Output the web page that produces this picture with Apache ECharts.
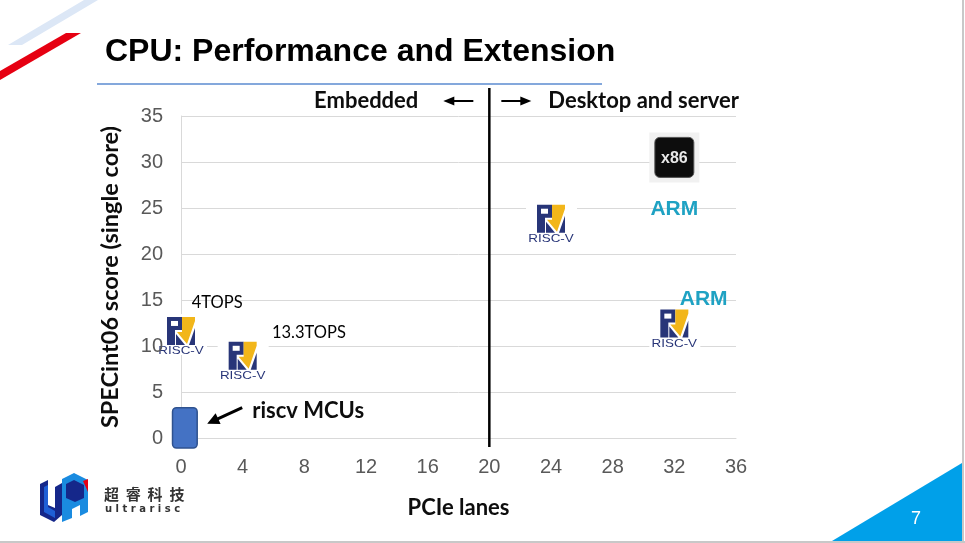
<!DOCTYPE html>
<html>
<head>
<meta charset="utf-8">
<script src="https://cdn.jsdelivr.net/npm/echarts@6/dist/echarts.min.js"></script>
<style>html,body{margin:0;padding:0;background:#fff;}#c{width:965px;height:543px;}</style>
</head>
<body>
<div id="c"></div>
<script>
// ---- data ----
const riscvX = [0, 4, 24, 32];
const riscvY = [11.2, 8.5, 23.4, 12];
const x86X = [32];
const x86Y = [30.5];
const armX = [32, 33.9];
const armY = [24.9, 15.1];
const mcuX = [-0.55, 1.05];   // box extent on PCIe axis
const mcuY = [-1.1, 3.3];     // box extent on score axis
const topsText = ['4TOPS', '13.3TOPS'];
const topsX = [0.7, 5.9];
const topsY = [14.7, 11.4];
const dividerX = [20];
const leftZoneText = 'Embedded';
const rightZoneText = 'Desktop and server';
const mcuText = 'riscv MCUs';

const NAVY = '#283578', GOLD = '#f2b61a';
const chart = echarts.init(document.getElementById('c'));

function arrowShapes(x1, y1, x2, y2, w, hl, hw) {
  const dx = x2 - x1, dy = y2 - y1, L = Math.hypot(dx, dy);
  const ux = dx / L, uy = dy / L, px = -uy, py = ux;
  const bx = x2 - ux * hl, by = y2 - uy * hl;
  return [
    {type: 'line', shape: {x1: x1, y1: y1, x2: bx + ux, y2: by + uy}, style: {stroke: '#000', lineWidth: w}},
    {type: 'polygon', shape: {points: [[x2, y2], [bx + px * hw, by + py * hw], [bx - px * hw, by - py * hw]]}, style: {fill: '#000'}}
  ];
}

function riscvItem(params, api) {
  const c = api.coord([api.value(0), api.value(1)]);
  const ox = c[0] - 14, oy = c[1] - 18;
  const P = pts => pts.map(p => [ox + p[0], oy + p[1]]);
  return {type: 'group', children: [
    {type: 'rect', shape: {x: c[0] - 25, y: c[1] - 21, width: 51, height: 41}, style: {fill: '#fff'}},
    {type: 'polygon', shape: {points: P([[0, 0], [15, 0], [15, 13], [8, 13], [8, 28], [0, 28]])}, style: {fill: NAVY}},
    {type: 'rect', shape: {x: ox + 4, y: oy + 4, width: 7, height: 5}, style: {fill: '#fff'}},
    {type: 'polygon', shape: {points: P([[15, 0], [28, 0], [28, 4], [20, 27], [10, 15], [15, 15]])}, style: {fill: GOLD}},
    {type: 'polygon', shape: {points: P([[9, 17], [18, 28], [9, 28]])}, style: {fill: NAVY}},
    {type: 'polygon', shape: {points: P([[22, 28], [28, 28], [28, 11]])}, style: {fill: NAVY}},
    {type: 'text', x: c[0], y: c[1] + 16, scaleX: 1.22, style: {text: 'RISC-V', x: 0, y: 0, align: 'center', verticalAlign: 'middle',
      font: '11px "Liberation Sans"', fill: NAVY}}
  ]};
}

function x86Item(params, api) {
  const c = api.coord([api.value(0), api.value(1)]);
  return {type: 'group', children: [
    {type: 'rect', shape: {x: c[0] - 25, y: c[1] - 25, width: 50, height: 50}, style: {fill: '#f1f1f1'}},
    {type: 'rect', shape: {x: c[0] - 19.5, y: c[1] - 20, width: 39, height: 40, r: 5}, style: {fill: '#0d0d0d', stroke: '#555', lineWidth: 1}},
    {type: 'text', style: {text: 'x86', x: c[0], y: c[1] + 1, align: 'center', verticalAlign: 'middle',
      font: 'bold 16px "Liberation Sans"', fill: '#e8e8e8'}}
  ]};
}

function armItem(params, api) {
  const c = api.coord([api.value(0), api.value(1)]);
  return {type: 'text', style: {text: 'ARM', x: c[0], y: c[1], align: 'center', verticalAlign: 'middle',
    font: 'bold 21px "Liberation Sans"', fill: '#1fa2c3'}};
}

function mcuItem(params, api) {
  const tl = api.coord([api.value(0), api.value(3)]);
  const br = api.coord([api.value(1), api.value(2)]);
  const right = br[0], top = tl[1];
  return {type: 'group', children: [
    {type: 'rect', shape: {x: tl[0], y: tl[1], width: br[0] - tl[0], height: br[1] - tl[1], r: 4},
      style: {fill: '#4472c4', stroke: '#2f528f', lineWidth: 1.5}},
    ...arrowShapes(right + 45, top, right + 10, top + 16, 3, 12, 6),
    {type: 'text', style: {text: mcuText, x: right + 55, y: top + 3, align: 'left', verticalAlign: 'middle',
      font: 'bold 22px Lato', fill: '#0d0d0d'}}
  ]};
}

function topsItem(params, api) {
  const c = api.coord([api.value(0), api.value(1)]);
  return {type: 'text', style: {text: topsText[params.dataIndex], x: c[0], y: c[1], align: 'left', verticalAlign: 'middle',
    font: '16.5px Lato', fill: '#000'}};
}

function dividerItem(params, api) {
  const t = api.coord([api.value(0), 35]);
  const b = api.coord([api.value(0), 0]);
  const x = t[0], ty = t[1] - 15;
  return {type: 'group', children: [
    {type: 'line', shape: {x1: x, y1: t[1] - 28, x2: x, y2: b[1] + 9}, style: {stroke: '#000', lineWidth: 2.5}},
    {type: 'text', style: {text: leftZoneText, x: x - 71, y: ty, align: 'right', verticalAlign: 'middle', font: 'bold 22px Lato', fill: '#0d0d0d'}},
    ...arrowShapes(x - 16, ty, x - 46, ty, 2, 11, 4.5),
    ...arrowShapes(x + 12, ty, x + 42, ty, 2, 11, 4.5),
    {type: 'text', style: {text: rightZoneText, x: x + 59, y: ty, align: 'left', verticalAlign: 'middle', font: 'bold 22px Lato', fill: '#0d0d0d'}}
  ]};
}

const yBase = {type: 'value', min: 0, max: 35, interval: 5, position: 'left'};
const labelStyle = {color: '#595959', fontSize: 20, fontFamily: 'Liberation Sans'};

chart.setOption({
  animation: false,
  grid: {left: 181, right: 229, top: 116, bottom: 105, containLabel: false},
  xAxis: {type: 'value', min: 0, max: 36, interval: 4,
    name: 'PCIe lanes', nameLocation: 'middle', nameGap: 59,
    nameTextStyle: {fontFamily: 'Lato', fontWeight: 'bold', fontSize: 22, color: '#0d0d0d'},
    axisLine: {lineStyle: {color: '#d9d9d9', width: 1}}, axisTick: {show: false}, splitLine: {show: false},
    axisLabel: Object.assign({margin: 19}, labelStyle)},
  yAxis: [
    Object.assign({}, yBase, {
      name: 'SPECint06 score (single core)', nameLocation: 'middle', nameGap: 59, nameRotate: 90,
      nameTextStyle: {fontFamily: 'Lato', fontWeight: 'bold', fontSize: 23.5, color: '#0d0d0d'},
      axisLine: {show: true, lineStyle: {color: '#d9d9d9', width: 1}}, axisTick: {show: false},
      splitLine: {show: true, lineStyle: {color: '#d9d9d9', width: 1}},
      axisLabel: {show: false}}),
    Object.assign({}, yBase, {z: 10, axisLine: {show: false}, axisTick: {show: false}, splitLine: {show: false},
      axisLabel: Object.assign({margin: 18}, labelStyle)})
  ],
  graphic: [
    {type: 'polygon', shape: {points: [[84, 0], [98, 0], [22, 45], [8, 45]]}, style: {fill: '#dce7f6'}},
    {type: 'polygon', shape: {points: [[66, 33], [81, 33], [0, 80], [0, 71]]}, style: {fill: '#e60012'}},
    {type: 'text', style: {text: 'CPU: Performance and Extension', x: 105, y: 52, verticalAlign: 'middle',
      font: 'bold 32px "Liberation Sans"', fill: '#000'}},
    {type: 'line', shape: {x1: 97, y1: 84, x2: 602, y2: 84}, style: {stroke: '#5b8bd0', lineWidth: 1.5}},
    {type: 'line', shape: {x1: 963, y1: 0, x2: 963, y2: 543}, style: {stroke: '#c8c8c8', lineWidth: 2}},
    {type: 'line', shape: {x1: 0, y1: 542, x2: 965, y2: 542}, style: {stroke: '#c8c8c8', lineWidth: 2}},
    {type: 'polygon', shape: {points: [[832, 541], [962, 463], [962, 541]]}, style: {fill: '#00a0e9'}},
    {type: 'text', style: {text: '7', x: 916, y: 519, align: 'center', verticalAlign: 'middle', font: '18px "Liberation Sans"', fill: '#fff'}},
    // company logo
    {type: 'polygon', shape: {points: [[40, 484], [48, 480], [48, 505], [55, 508], [55, 487], [62, 483], [62, 515], [54, 522], [40, 515]]}, style: {fill: '#15278a'}},
    {type: 'polygon', shape: {points: [[44, 487], [48, 485], [48, 507], [55, 511], [55, 518], [44, 512]]}, style: {fill: '#1f5fd6'}},
    {type: 'polygon', shape: {points: [[62, 479], [74, 473], [88, 480], [88, 512], [80, 516], [80, 505], [72, 509], [72, 518], [62, 522]]}, style: {fill: '#1a8be0'}},
    {type: 'polygon', shape: {points: [[66, 484], [74, 480], [84, 485], [84, 498], [75, 502], [66, 498]]}, style: {fill: '#15278a'}},
    {type: 'polygon', shape: {points: [[83, 481], [88, 479], [88, 492]]}, style: {fill: '#e60012'}},
    {type: 'text', style: {text: '超  睿  科  技', x: 104, y: 494, verticalAlign: 'middle', font: 'bold 15px "Noto Sans CJK SC"', fill: '#333'}},
    {type: 'text', style: {text: 'u l t r a r i s c', x: 105, y: 509, verticalAlign: 'middle', font: 'bold 10px "DejaVu Sans"', fill: '#333'}}
  ],
  series: [
    {type: 'custom', name: 'divider', z: 3, data: dividerX.map(x => [x]), renderItem: dividerItem},
    {type: 'custom', name: 'RISC-V', z: 4, data: riscvX.map((x, i) => [x, riscvY[i]]), renderItem: riscvItem},
    {type: 'custom', name: 'x86', z: 4, data: x86X.map((x, i) => [x, x86Y[i]]), renderItem: x86Item},
    {type: 'custom', name: 'ARM', z: 4, data: armX.map((x, i) => [x, armY[i]]), renderItem: armItem},
    {type: 'custom', name: 'TOPS', z: 4, data: topsX.map((x, i) => [x, topsY[i]]), renderItem: topsItem},
    {type: 'custom', name: 'MCUs', z: 4, data: [[mcuX[0], mcuX[1], mcuY[0], mcuY[1]]],
      encode: {x: [0, 1], y: [2, 3]}, renderItem: mcuItem}
  ]
});
</script>
</body>
</html>
